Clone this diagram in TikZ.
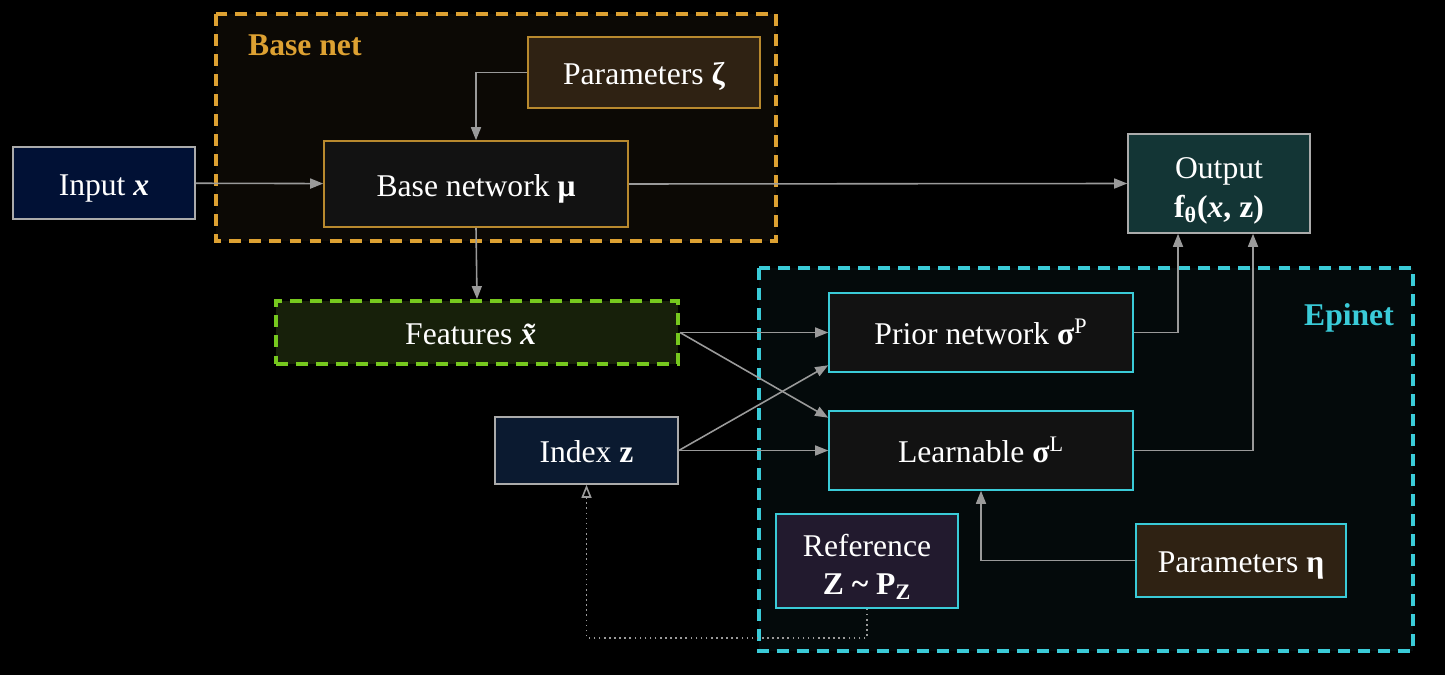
\documentclass[tikz,border=0pt]{standalone}
\usepackage{fontspec}
\setmainfont{Liberation Serif}
\usepackage{xcolor}
\usepackage{tikz}
\usetikzlibrary{arrows.meta,calc,positioning}
\definecolor{bnorange}{HTML}{DDA132}
\definecolor{bnedge}{HTML}{B8892E}
\definecolor{bnfill}{HTML}{0C0905}
\definecolor{epicyan}{HTML}{3ACBD8}
\definecolor{epifill}{HTML}{040A0B}
\definecolor{featgreen}{HTML}{76C81E}
\definecolor{linkgray}{HTML}{9A9A9A}
\definecolor{edgegray}{HTML}{ABABAB}

\begin{document}
\begin{tikzpicture}[
    font=\fontsize{18}{23}\selectfont,
    blk/.style={draw, line width=0.9pt, align=center, text=white, inner sep=0pt, text height=0.62cm, text depth=0.13cm},
    twoline/.style={text height=, text depth=0.08cm},
    link/.style={draw=linkgray, line width=0.9pt, -{Triangle[length=0.26cm,width=0.2cm]}},
    group/.style={line width=2.2pt, dash pattern=on 6.8pt off 4.6pt}
]
    \fill[black] (0,0) rectangle (28.9,13.5);
    % dashed groups
    \draw[group, draw=bnorange, fill=bnfill] (4.32,13.22) rectangle (15.52,8.68);
    \draw[group, draw=epicyan, fill=epifill] (15.18,8.14) rectangle (28.26,0.48);
    \node[anchor=west, text=bnorange, font=\fontsize{18}{21}\selectfont\bfseries] (bnlabel) at (4.84,12.6) {Base net};
    \node[anchor=east, text=epicyan, font=\fontsize{18}{21}\selectfont\bfseries] (epilabel) at (28.0,7.14) {Epinet};

    \node[blk, draw=edgegray, fill={rgb,255:red,1;green,17;blue,53}, minimum width=3.64cm, minimum height=1.44cm] (input) at (2.08,9.84) {Input \textbf{\textit{x}}};
    \node[blk, draw=bnedge, fill={rgb,255:red,18;green,18;blue,18}, minimum width=6.08cm, minimum height=1.72cm] (base) at (9.52,9.82) {Base network \textbf{μ}};
    \node[blk, draw=bnedge, fill={rgb,255:red,47;green,34;blue,19}, minimum width=4.64cm, minimum height=1.42cm] (paramz) at (12.88,12.05) {Parameters \textbf{ζ}};
    \node[blk, twoline, draw=edgegray, fill={rgb,255:red,19;green,53;blue,53}, minimum width=3.64cm, minimum height=1.98cm] (output) at (24.38,9.83) {\rule{0pt}{0.66cm}Output\\[-1.2pt]\textbf{f\textsubscript{θ}(\textit{x}, z)}};
    \node[blk, group, draw=featgreen, fill={rgb,255:red,23;green,32;blue,10}, minimum width=8.04cm, minimum height=1.26cm] (features) at (9.54,6.85) {Features \textbf{\textit{\~x}}};
    \node[blk, draw=epicyan, fill={rgb,255:red,18;green,18;blue,18}, minimum width=6.08cm, minimum height=1.58cm] (prior) at (19.62,6.85) {Prior network \textbf{σ}\textsuperscript{P}};
    \node[blk, draw=epicyan, fill={rgb,255:red,18;green,18;blue,18}, minimum width=6.08cm, minimum height=1.58cm] (learn) at (19.62,4.49) {Learnable \textbf{σ}\textsuperscript{L}};
    \node[blk, draw=edgegray, fill={rgb,255:red,11;green,26;blue,48}, minimum width=3.66cm, minimum height=1.34cm] (index) at (11.73,4.49) {Index \textbf{z}};
    \node[blk, twoline, draw=epicyan, fill={rgb,255:red,34;green,26;blue,46}, minimum width=3.64cm, minimum height=1.88cm] (refer) at (17.34,2.28) {\rule{0pt}{0.66cm}Reference\\[-1.2pt]\textbf{Z \textasciitilde{} P\textsubscript{Z}}};
    \node[blk, draw=epicyan, fill={rgb,255:red,47;green,34;blue,19}, minimum width=4.2cm, minimum height=1.46cm] (parame) at (24.82,2.29) {Parameters \textbf{η}};

    % connectors
    \draw[link] (input) -- (base);
    \draw[link] (paramz.west) -| (base.north);
    \draw[link] (base.east) -- (output.west);
    \draw[link] (base.south) -- (features.north);
    \draw[link] (features.east) -- (prior.west);
    \draw[link] (features.east) -- ([yshift=-0.15cm]learn.north west);
    \draw[link] (index.east) -- (learn.west);
    \draw[link] (index.east) -- ([yshift=0.15cm]prior.south west);
    \draw[link] (prior.east) -| ([xshift=-0.82cm]output.south);
    \draw[link] (learn.east) -| ([xshift=0.68cm]output.south);
    \draw[link] (parame.west) -| (learn.south);
    \draw[link, dotted, -{Triangle[open,length=0.26cm,width=0.2cm]}] (refer.south) -- ++(0,-0.58) -| (index.south);
\end{tikzpicture}
\end{document}
